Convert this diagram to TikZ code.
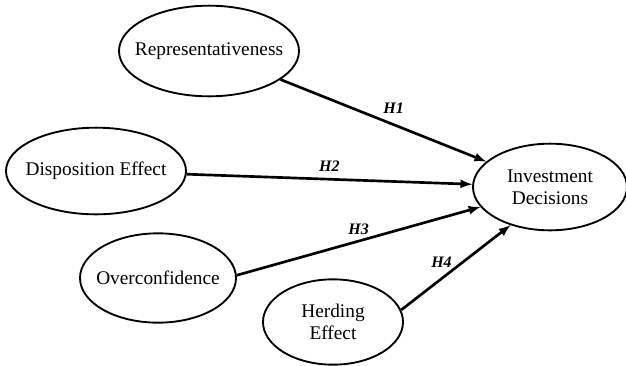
\documentclass[tikz,border=0pt]{standalone}
\usepackage{fontspec}
\setmainfont{Liberation Serif}
\usetikzlibrary{shapes.geometric}
\begin{document}
\begin{tikzpicture}[>=latex, x=0.75pt, y=-0.75pt,
  var/.style={draw, ellipse, line width=1.4pt, inner xsep=-12pt, inner ysep=0pt,
    align=center, font=\fontsize{14.5}{16.5}\selectfont},
  path/.style={->, line width=2pt},
  hyp/.style={font=\fontsize{12}{14}\selectfont\bfseries\itshape, inner sep=2pt}]
\useasboundingbox (0,0) rectangle (626,365);

\node[var, minimum width=135pt, minimum height=68pt] (rep) at (209,51) {Representativeness};
\node[var, minimum width=135pt, minimum height=65pt] (dis) at (96,171) {Disposition Effect};
\node[var, minimum width=117pt, minimum height=67pt] (ovc) at (158,278) {Overconfidence};
\node[var, minimum width=105pt, minimum height=64pt] (her) at (333,322) {Herding\\Effect};
\node[var, minimum width=115.5pt, minimum height=65pt] (inv) at (550,187) {Investment\\Decisions};

\draw[path] (rep) -- node[hyp, above, pos=0.55, yshift=5pt] {H1} (inv);
\draw[path] (dis) -- node[hyp, above, pos=0.5, yshift=3pt] {H2} (inv);
\draw[path] (ovc.2) -- node[hyp, above, pos=0.5, yshift=2pt] {H3} (inv.196);
\draw[path] (her.10) -- node[hyp, above left, pos=0.45, xshift=4pt] {H4} (inv.224);
\end{tikzpicture}
\end{document}
